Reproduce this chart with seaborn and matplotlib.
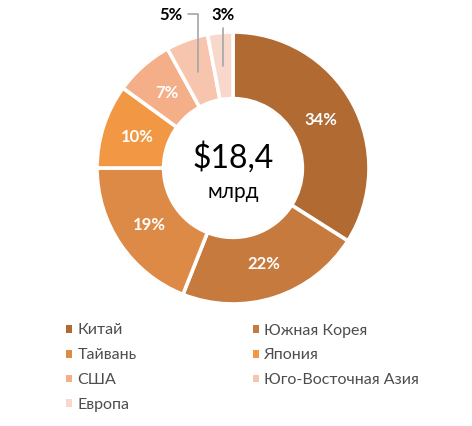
import numpy as np
import matplotlib
matplotlib.use("Agg")
import matplotlib.pyplot as plt
from matplotlib.patches import Patch
import seaborn as sns

categories = ["Китай", "Южная Корея", "Тайвань", "Япония", "США", "Юго-Восточная Азия", "Европа"]
shares = [34, 22, 19, 10, 7, 5, 3]
colors = ["#B06A32", "#C77A3E", "#DE8A47", "#F29845", "#F4AF88", "#F7C5AE", "#F8D8CB"]
center_value = "$18,4"
center_unit = "млрд"
outside_labels = [5, 6]  # indices labelled outside with leader lines

sns.set_theme(style="white")
plt.rcParams['font.family'] = ['Lato', 'DejaVu Sans']

W, H = 472, 426
fig = plt.figure(figsize=(W / 100, H / 100), dpi=100)
cx, cy, R = 233, 168, 136
L = 1.3
half = R * L
ax = fig.add_axes([(cx - half) / W, (H - cy - half) / H, 2 * half / W, 2 * half / H])

wedges, _ = ax.pie(shares, colors=colors, startangle=90, counterclock=False,
                   radius=1.0, wedgeprops=dict(width=0.49, edgecolor="white", linewidth=2.6))
ax.set_xlim(-L, L)
ax.set_ylim(-L, L)
ax.set_aspect("equal")
ax.axis("off")

for i, (w, s) in enumerate(zip(wedges, shares)):
    theta = np.deg2rad((w.theta1 + w.theta2) / 2)
    lab = f"{s}%"
    if i in outside_labels:
        r = 0.75
        x0, y0 = r * np.cos(theta), r * np.sin(theta)
        if i == 5:
            ytop = 1.13
            ax.plot([x0, x0, x0 - 0.08], [y0, ytop, ytop], color="#A6A6A6", lw=1.2, clip_on=False)
            ax.text(x0 - 0.12, ytop - 0.005, lab, ha="right", va="center", fontsize=12,
                    fontweight="bold", color="#000000")
        else:
            ytop = 1.03
            ax.plot([x0, x0], [y0, ytop], color="#A6A6A6", lw=1.2, clip_on=False)
            ax.text(x0 - 0.005, 1.125, lab, ha="center", va="center", fontsize=12,
                    fontweight="bold", color="#000000")
    else:
        r = 0.74
        ax.text(r * np.cos(theta), r * np.sin(theta), lab, ha="center", va="center",
                fontsize=12, fontweight="bold", color="white")

ax.text(0, 0.074, center_value, ha="center", va="center", fontsize=23, color="#000000")
ax.text(0, -0.176, center_unit, ha="center", va="center", fontsize=15, color="#000000")

# legend: row-wise order, matplotlib fills column-wise
order = [0, 2, 4, 6, 1, 3, 5]
handles = [Patch(facecolor=colors[i], edgecolor="none") for i in order]
labels = [categories[i] for i in order]
leg = fig.legend(handles, labels, ncol=2, loc="upper left",
                 bbox_to_anchor=(66 / W, 1 - 323.5 / H), frameon=False,
                 fontsize=11.5, handlelength=0.38, handleheight=0.38,
                 handletextpad=0.35, columnspacing=7.25, labelspacing=0.68,
                 borderaxespad=0, borderpad=0)
for t in leg.get_texts():
    t.set_color("#4D4D4D")

fig.savefig("out.png", dpi=100)
